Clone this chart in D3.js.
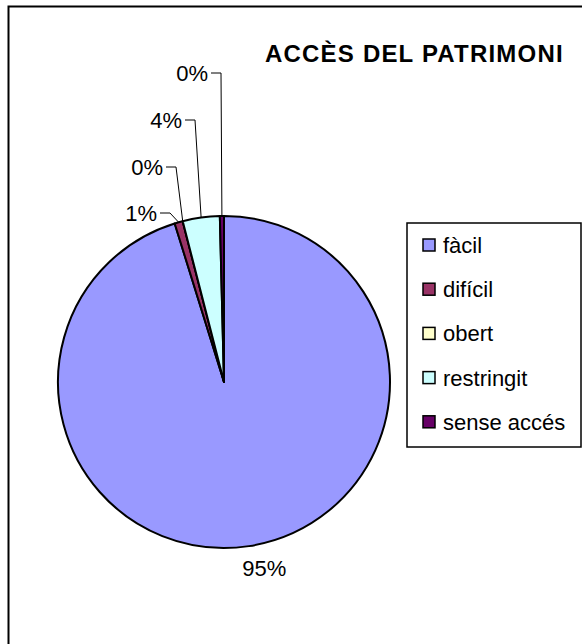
<!DOCTYPE html>
<html>
<head>
<meta charset="utf-8">
<script src="https://cdn.jsdelivr.net/npm/d3@7"></script>
<style>
  html, body { margin: 0; padding: 0; background: #fff; }
  svg { display: block; font-family: "Liberation Sans", Arial, sans-serif; }
</style>
</head>
<body>
<svg id="chart" width="582" height="644"></svg>
<script>
const TITLE = 'ACCÈS DEL PATRIMONI';
const CATEGORIES = ['fàcil', 'difícil', 'obert', 'restringit', 'sense accés'];
const VALUES = [238, 2, 0, 9, 1];
const COLORS = ['#9999FF', '#993366', '#FFFFCC', '#CCFFFF', '#660066'];

// where Excel dragged the small labels to (right edge of text, vertical centre)
const LABEL_SPOTS = [null, [157, 213], [163, 167], [182, 120], [208, 73]];

function draw() {
  const svg = d3.select('#chart');
  const cx = 224, cy = 382, r = 166;
  const total = d3.sum(VALUES);
  const fmt = v => Math.round(v / total * 100) + '%';

  // chart area frame (runs off the right and bottom)
  svg.append('rect')
    .attr('x', 8.5).attr('y', 6.5)
    .attr('width', 700).attr('height', 800)
    .attr('fill', 'none')
    .attr('stroke', '#000')
    .attr('stroke-width', 2);

  svg.append('text')
    .attr('x', 265).attr('y', 62)
    .attr('font-size', 24)
    .attr('font-weight', 700)
    .attr('letter-spacing', 1.2)
    .text(TITLE);

  const pie = d3.pie().sort(null).value(d => d);
  const arcs = pie(VALUES);
  const arc = d3.arc().innerRadius(0).outerRadius(r);
  const edge = d3.arc().innerRadius(r).outerRadius(r);

  const g = svg.append('g').attr('transform', `translate(${cx},${cy})`);

  g.selectAll('path.slice')
    .data(arcs)
    .enter()
    .append('path')
    .attr('class', 'slice')
    .attr('d', arc)
    .attr('fill', (d, i) => COLORS[i])
    .attr('stroke', '#000')
    .attr('stroke-width', 2)
    .attr('stroke-linejoin', 'round');

  // big slice label sits outside the arc
  const outer = d3.arc().innerRadius(r + 22).outerRadius(r + 22);
  const [bx, by] = outer.centroid(arcs[0]);
  g.append('text')
    .attr('x', bx + 12).attr('y', by + 8)
    .attr('text-anchor', 'middle')
    .attr('font-size', 22)
    .text(fmt(VALUES[0]));

  // small slices: labels with leader lines
  arcs.slice(1).forEach((d, k) => {
    const i = k + 1;
    const [tx, ty] = LABEL_SPOTS[i];
    const [ax, ay] = edge.centroid(d);
    svg.append('path')
      .attr('d', `M${tx + 3},${ty}H${tx + 13}L${ax + cx},${ay + cy}`)
      .attr('fill', 'none')
      .attr('stroke', '#000')
      .attr('stroke-width', 1);
    svg.append('text')
      .attr('x', tx).attr('y', ty + 8)
      .attr('text-anchor', 'end')
      .attr('font-size', 22)
      .text(fmt(VALUES[i]));
  });

  // legend
  const legend = svg.append('g');
  legend.append('rect')
    .attr('x', 407).attr('y', 223)
    .attr('width', 174).attr('height', 224)
    .attr('fill', '#fff')
    .attr('stroke', '#000')
    .attr('stroke-width', 1.5);

  const items = legend.selectAll('g.item')
    .data(CATEGORIES)
    .enter()
    .append('g')
    .attr('class', 'item')
    .attr('transform', (d, i) => `translate(0,${245 + i * 44.2})`);

  items.append('rect')
    .attr('x', 423).attr('y', -6)
    .attr('width', 12).attr('height', 12)
    .attr('fill', (d, i) => COLORS[i])
    .attr('stroke', '#000')
    .attr('stroke-width', 1.5);

  items.append('text')
    .attr('x', 443).attr('y', 8)
    .attr('font-size', 22)
    .text(d => d);
}

draw();
</script>
</body>
</html>
